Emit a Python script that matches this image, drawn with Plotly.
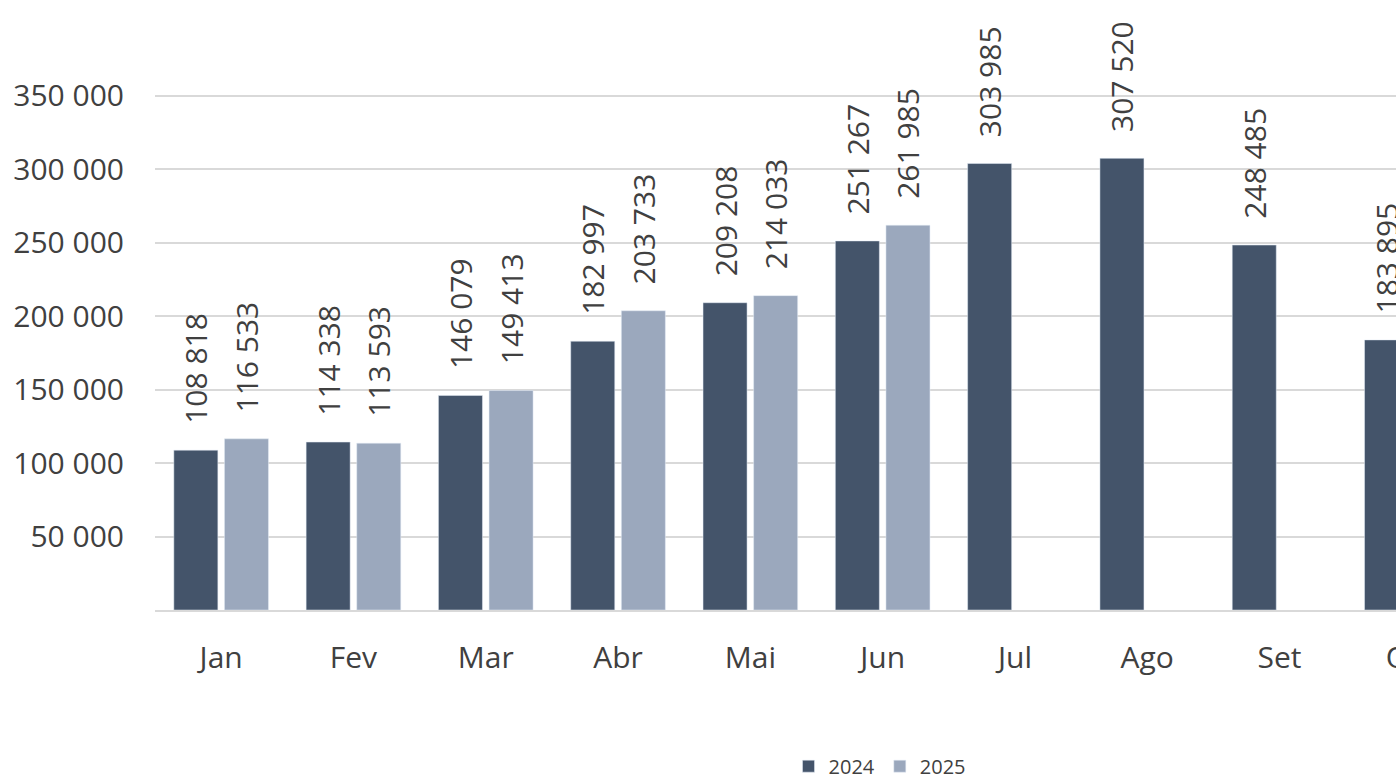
import plotly.graph_objects as go

months = ["Jan", "Fev", "Mar", "Abr", "Mai", "Jun", "Jul", "Ago", "Set", "Out"]
v2024 = [108818, 114338, 146079, 182997, 209208, 251267, 303985, 307520, 248485, 183895]
v2025 = [116533, 113593, 149413, 203733, 214033, 261985, None, None, None, None]
yticks = [50000, 100000, 150000, 200000, 250000, 300000, 350000]

FONT = "Open Sans"
TXT = "#404040"
lab = "\u00a0\u00a0\u00a0%{y:,}"

fig = go.Figure()
fig.add_trace(go.Bar(name="2024", x=months, y=v2024, marker_color="#44546A",
                     texttemplate=lab, textposition="outside", textangle=-90,
                     constraintext="none", cliponaxis=False,
                     textfont=dict(family=FONT, size=30, color=TXT), hoverinfo="skip"))
fig.add_trace(go.Bar(name="2025", x=months, y=v2025, marker_color="#9BA8BD",
                     texttemplate=lab, textposition="outside", textangle=-90,
                     constraintext="none", cliponaxis=False,
                     textfont=dict(family=FONT, size=30, color=TXT), hoverinfo="skip"))

fig.update_layout(
    width=1478, height=781,
    margin=dict(l=155, r=0, t=93, b=171, autoexpand=False),
    paper_bgcolor="white", plot_bgcolor="white",
    barmode="group", bargap=0.235, bargroupgap=0.13,
    separators=", ",
    font=dict(family=FONT, size=30, color=TXT),
    showlegend=True,
    legend=dict(orientation="h", x=0.548, xanchor="center",
                yref="container", y=0.019, yanchor="middle",
                font=dict(family=FONT, size=20, color=TXT), itemwidth=30,
                traceorder="normal"),
    xaxis=dict(range=[-0.5, 9.5], showgrid=False, showline=True, linecolor="#D9D9D9",
               linewidth=2, ticks="", ticklabelstandoff=20,
               tickfont=dict(family=FONT, size=30, color=TXT)),
    yaxis=dict(range=[0, 352000], tickvals=yticks, tickformat=",", showgrid=True,
               gridcolor="#D9D9D9", gridwidth=2, zeroline=False, showline=False,
               ticks="", ticklabelstandoff=30,
               tickfont=dict(family=FONT, size=30, color=TXT)),
)

fig.write_html("out.html", config={"displayModeBar": False},
               post_script="document.body.style.margin='0';document.body.style.overflow='hidden';document.documentElement.style.overflow='hidden';")
